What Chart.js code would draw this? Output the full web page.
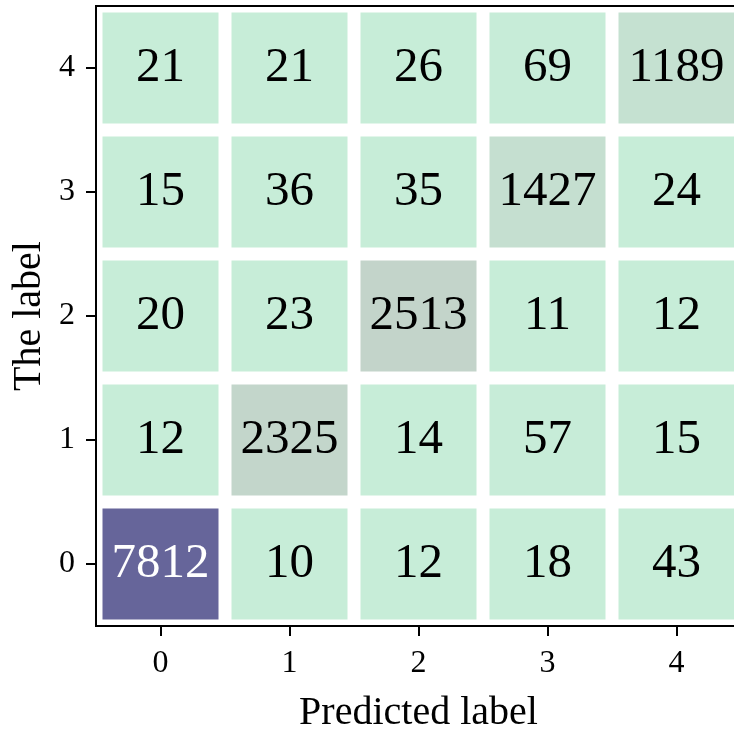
<!DOCTYPE html>
<html>
<head>
<meta charset="utf-8">
<script src="https://cdn.jsdelivr.net/npm/chart.js@4.4.1/dist/chart.umd.min.js"></script>
<style>
  html, body { margin: 0; padding: 0; background: #fff; overflow: hidden; }
  #wrap { width: 745px; height: 733px; }
</style>
</head>
<body>
<div id="wrap"><canvas id="cm"></canvas></div>
<script>
// confusion matrix: one array per true label, columns are the predicted label
const labels = ["0", "1", "2", "3", "4"];
const true0 = [7812, 10, 12, 18, 43];
const true1 = [12, 2325, 14, 57, 15];
const true2 = [20, 23, 2513, 11, 12];
const true3 = [15, 36, 35, 1427, 24];
const true4 = [21, 21, 26, 69, 1189];
const rows = [true0, true1, true2, true3, true4];
const maxCount = Math.max(...rows.flat());

// colour map: pale green -> grey green -> purple
const stops = [[0, [199, 237, 216]], [0.32, [195, 212, 202]], [1, [102, 101, 154]]];
function cellColor(v) {
  const t = v / maxCount;
  for (let k = 1; k < stops.length; k++) {
    if (t <= stops[k][0]) {
      const [t0, c0] = stops[k - 1], [t1, c1] = stops[k];
      const f = (t - t0) / (t1 - t0);
      const c = c0.map((x, i) => Math.round(x + (c1[i] - x) * f));
      return "rgb(" + c.join(",") + ")";
    }
  }
  return "rgb(" + stops[stops.length - 1][1].join(",") + ")";
}

const serif = '"Liberation Serif", "Times New Roman", serif';

// each row is a dataset of floating bars spanning one unit on the y axis
const datasets = rows.map((row, r) => ({
  label: "true " + labels[r],
  data: row.map(() => [r - 0.5, r + 0.5]),
  counts: row,
  backgroundColor: row.map(cellColor),
  borderColor: "#fff",
  borderWidth: 6.5,
  borderSkipped: false,
  inflateAmount: 0,
  grouped: false,
  barPercentage: 1,
  categoryPercentage: 1
}));

// numbers inside the cells + frame round the plot
const cellText = {
  id: "cellText",
  afterDatasetsDraw(chart) {
    const ctx = chart.ctx;
    ctx.save();
    ctx.font = '300 49px "Liberation Serif"';
    ctx.textAlign = "center";
    ctx.textBaseline = "middle";
    chart.data.datasets.forEach((ds, i) => {
      chart.getDatasetMeta(i).data.forEach((bar, j) => {
        const v = ds.counts[j];
        ctx.fillStyle = v > maxCount / 2 ? "#fff" : "#000";
        ctx.fillText(String(v), bar.x, (bar.y + bar.base) / 2);
      });
    });
    const a = chart.chartArea;
    ctx.strokeStyle = "#000";
    ctx.lineWidth = 2;
    ctx.strokeRect(a.left, a.top, a.right - a.left, a.bottom - a.top);
    ctx.restore();
  }
};

Chart.defaults.font.family = serif;
Chart.defaults.color = "#000";

new Chart(document.getElementById("cm"), {
  type: "bar",
  data: { labels: labels, datasets: datasets },
  options: {
    responsive: true,
    maintainAspectRatio: false,
    animation: false,
    layout: { padding: { left: 0, right: 4, top: 6, bottom: 0 } },
    plugins: { legend: { display: false }, tooltip: { enabled: false } },
    scales: {
      x: {
        type: "category",
        grid: { offset: false, drawOnChartArea: false, tickLength: 10, color: "#000", lineWidth: 2 },
        border: { color: "#000", width: 2 },
        ticks: { font: { size: 32 }, padding: 8, color: "#000", maxRotation: 0 },
        title: { display: true, text: "Predicted label", font: { size: 40, lineHeight: 1 }, padding: { top: 0, bottom: 0 }, color: "#000" },
        afterFit(scale) { scale.height = 107; scale.paddingLeft = 0; scale.paddingRight = 0; }
      },
      y: {
        type: "linear",
        min: -0.5,
        max: 4.5,
        afterBuildTicks(scale) { scale.ticks = labels.map((_, i) => ({ value: i })); },
        grid: { drawOnChartArea: false, tickLength: 10, color: "#000", lineWidth: 2 },
        border: { color: "#000", width: 2 },
        ticks: { font: { size: 32 }, padding: 11, color: "#000", callback: v => labels[v] },
        title: { display: true, text: "The label", font: { size: 40, lineHeight: 1 }, padding: { top: 9, bottom: 0 }, color: "#000" },
        afterFit(scale) { scale.width = 96; scale.paddingTop = 0; scale.paddingBottom = 0; }
      }
    }
  },
  plugins: [cellText]
});
</script>
</body>
</html>
